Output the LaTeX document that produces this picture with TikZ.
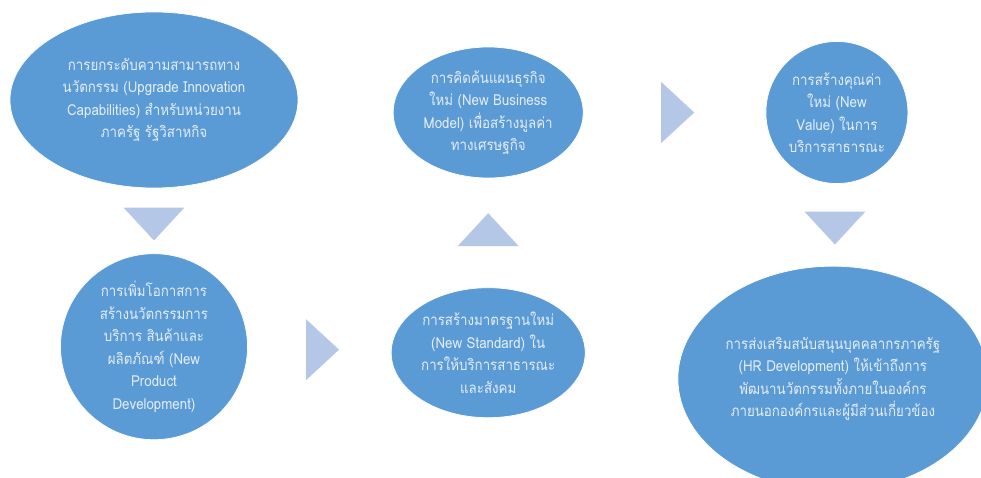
\documentclass[tikz,border=0pt]{standalone}
\usepackage{fontspec}
\newfontfamily\thaifont[Script=Thai,FakeStretch=0.88]{Loma}
\usepackage{tikz}
\usetikzlibrary{shapes,arrows}
\usetikzlibrary{positioning}
\usetikzlibrary{calc}
\definecolor{ovalblue}{HTML}{5B9BD5}
\definecolor{triblue}{HTML}{B4C7E7}
\definecolor{ovaltext}{HTML}{E4EDF7}

\begin{document}
\begin{tikzpicture}[node distance=2em,auto,
  oval/.style={ellipse,fill=ovalblue,draw=white,line width=0.4pt,inner sep=-1pt,align=center,text=ovaltext,font=\thaifont\fontsize{8.6}{12.8}\selectfont},
  tri/.style={isosceles triangle,isosceles triangle apex angle=85,isosceles triangle stretches,fill=triblue,inner sep=0pt,minimum width=1.22cm,minimum height=0.66cm}]
\useasboundingbox (0,0) rectangle (19.62,-9.56);
\path node[oval,minimum width=5.76cm,minimum height=3.52cm] (e1) at (3.08,-2.0) {การยกระดับความสามารถทาง\\นวัตกรรม (Upgrade Innovation\\Capabilities) สำหรับหน่วยงาน\\ภาครัฐ รัฐวิสาหกิจ};
\path node[oval,minimum width=3.74cm,minimum height=3.72cm,below=1.3cm of e1] (e4) {การเพิ่มโอกาสการ\\สร้างนวัตกรรมการ\\บริการ สินค้าและ\\ผลิตภัณฑ์ (New\\Product\\Development)};
\path node[oval,minimum width=3.88cm,minimum height=2.6cm,right=2.86cm of e4,yshift=-0.12cm] (e5) {การสร้างมาตรฐานใหม่\\(New Standard) ใน\\การให้บริการสาธารณะ\\และสังคม};
\path node[oval,minimum width=3.8cm,minimum height=2.62cm,above=2.18cm of e5] (e2) {การคิดค้นแผนธุรกิจ\\ใหม่ (New Business\\Model) เพื่อสร้างมูลค่า\\ทางเศรษฐกิจ};
\path node[oval,minimum width=2.84cm,minimum height=2.84cm,right=3.64cm of e2] (e3) {การสร้างคุณค่า\\ใหม่ (New\\Value) ในการ\\บริการสาธารณะ};
\path node[oval,minimum width=6.2cm,minimum height=4.5cm,below=1.64cm of e3,xshift=-0.08cm] (e6) {การส่งเสริมสนับสนุนบุคคลากรภาครัฐ\\(HR Development) ให้เข้าถึงการ\\พัฒนานวัตกรรมทั้งภายในองค์กร\\ภายนอกองค์กรและผู้มีส่วนเกี่ยวข้อง};
% arrows between the steps
\path node[tri,shape border rotate=270] (t1) at ($(e1.south)!0.5!(e4.north)$) {};
\path node[tri] (t2) at ($(e4.east)!0.5!(e5.west)$) {};
\path node[tri,shape border rotate=90] (t3) at ($(e5.north)!0.5!(e2.south)$) {};
\path node[tri] (t4) at ($(e2.east)!0.5!(e3.west)$) {};
\path node[tri,shape border rotate=270] (t5) at ($(e3.south)!0.5!(e6.north)$) {};
\end{tikzpicture}
\end{document}
